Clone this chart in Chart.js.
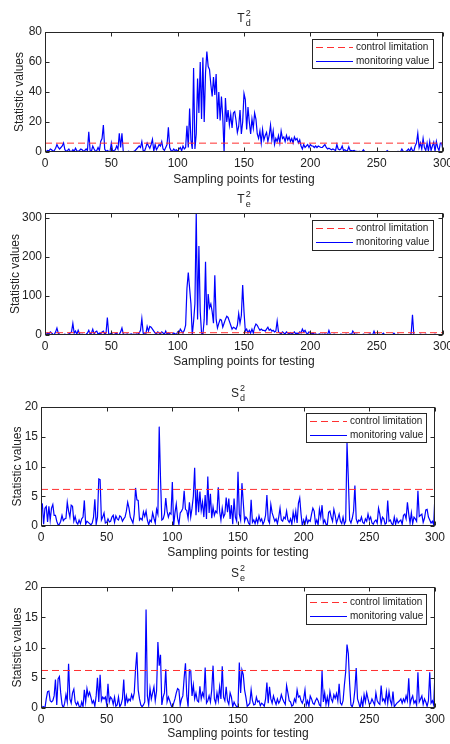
<!DOCTYPE html>
<html>
<head>
<meta charset="utf-8">
<script src="https://cdn.jsdelivr.net/npm/chart.js@4"></script>
<style>
  body { margin: 0; background: #fff; }
  #wrap { position: relative; width: 450px; height: 744px; }
  canvas { position: absolute; left: 0; }
</style>
</head>
<body>
<div id="wrap">
  <canvas id="c1" width="450" height="190" style="top:0px"></canvas>
  <canvas id="c2" width="450" height="186" style="top:190px"></canvas>
  <canvas id="c3" width="450" height="184" style="top:376px"></canvas>
  <canvas id="c4" width="450" height="184" style="top:560px"></canvas>
</div>
<script>
// values, samples 1..300
const tdValues = [
  0.5, 1, 0.8, 2, 1.5, 0.5, 1, 2.5, 5, 3,
  2, 3, 4, 6, 1.5, 0.5, 1, 2, 0.5, 0.3,
  1.5, 0.5, 2.5, 0.8, 0.3, 1, 2, 1.5, 0.5, 1,
  2, 1, 13.5, 1, 0.5, 4, 2, 0.5, 1, 3,
  1, 7, 9, 18, 2, 0.5, 1, 0.5, 0.3, 6,
  0.5, 1, 1.5, 4, 2, 12.5, 3, 12.5, 0.2, 0,
  0, 0.2, 0.5, 0, 0.3, 0, 0.5, 1, 2, 3,
  4, 3, 7, 1, 0.5, 3, 6, 4, 2.5, 5,
  8.5, 0.5, 5, 1.5, 3, 5, 4, 7, 2, 1,
  3, 5, 16.5, 3, 1, 0.5, 2, 1, 1.5, 0.5,
  2, 3, 0.8, 4, 2, 3, 17.5, 3, 29, 8,
  2, 56, 2, 12, 49, 26, 60, 22, 63, 20,
  53, 67, 57, 55, 45, 37, 50, 38, 52, 22,
  40, 21, 37, 23, 0, 36, 20, 28, 18, 25,
  16, 26, 27, 21, 13, 17, 28, 12, 20, 39,
  35, 15, 30, 20, 12, 22, 16, 26, 22, 12,
  9, 14, 6, 15, 8, 11, 13, 7, 11, 18,
  8, 14, 5, 9, 7, 11, 6, 14, 9, 10,
  7, 11, 8, 10, 7, 9, 6, 10, 8, 9,
  6, 8, 4, 2, 5, 3, 4, 5, 3, 5,
  4, 4, 3, 4, 3, 4, 3.5, 3, 3, 4,
  5, 3, 2, 2.5, 2, 1.5, 2, 1.5, 1, 5,
  2, 1.5, 2, 4, 1, 1.5, 0.8, 1, 3.5, 1,
  1, 0.8, 1, 0.5, 0.4, 0.3, 0.5, 0.3, 0.2, 1.5,
  0.2, 0.3, 0.2, 0.1, 0.2, 0.1, 0.2, 0.1, 0.1, 0.2,
  0.1, 0.2, 0.1, 0.1, 0.2, 0.1, 0.2, 1, 0.1, 0.2,
  0.1, 0.2, 0.1, 0.1, 0.2, 0.5, 0.3, 0.2, 2, 0.5,
  0.3, 0.5, 1, 2, 0.5, 3, 1, 0.5, 4, 6,
  12.5, 3, 6, 2, 9, 3, 1, 6, 0.5, 7,
  1, 4, 6.5, 0.5, 7, 3, 1, 6, 6, 0.5
];
const teValues = [
  2, 5, 3, 8, 5, 2, 1, 8, 18, 5,
  2, 1, 0.5, 1, 2, 0.5, 1, 3, 5, 8,
  30, 5, 10, 2, 12, 3, 1, 2, 1, 0.5,
  2, 5, 12, 2, 5, 15, 3, 8, 10, 2,
  5, 3, 8, 10, 2, 5, 45, 3, 2, 5,
  2, 1, 3, 5, 1, 2, 8, 18, 3, 1,
  2, 3, 1, 2, 3, 1, 2, 1, 3, 2,
  5, 12, 42, 5, 3, 2, 22, 10, 22, 20,
  15, 10, 5, 3, 8, 5, 3, 8, 5, 2,
  10, 2, 5, 3, 1, 2, 5, 3, 1, 8,
  5, 15, 10, 5, 12, 25, 120, 160, 120, 80,
  0, 35, 80, 313, 40, 228, 60, 5, 0, 40,
  188, 25, 105, 70, 80, 60, 30, 153, 40, 18,
  30, 40, 38, 20, 30, 40, 48, 45, 35, 25,
  15, 20, 18, 15, 25, 55, 30, 50, 128, 60,
  10, 15, 5, 12, 5, 15, 5, 20, 28, 25,
  18, 12, 15, 12, 12, 10, 15, 20, 12, 15,
  10, 12, 8, 10, 36, 8, 5, 3, 8, 5,
  3, 8, 5, 3, 6, 2, 5, 8, 3, 5,
  2, 8, 5, 15, 8, 12, 5, 3, 8, 5,
  3, 5, 2, 3, 1, 2, 3, 1, 2, 1,
  3, 2, 1, 12, 2, 0.5, 1, 2, 1, 0.5,
  1, 0.5, 2, 1, 0.5, 1, 2, 1, 1, 3,
  1, 10, 5, 1, 2, 1, 0.5, 1, 0.5, 2,
  1, 0.5, 1, 2, 3, 1, 1, 10, 1, 0.5,
  1, 2, 0.5, 1, 5, 1, 0.5, 1, 0.5, 1,
  0.5, 1, 5, 1, 0.5, 2, 1, 0.5, 1, 0.5,
  1, 0.5, 1, 0.5, 1, 3, 52, 1, 0.5, 1,
  1, 0.5, 2, 1, 0.5, 1, 2, 0.5, 1, 0.5,
  1, 0.5, 1, 2, 0.5, 1, 0.5, 1, 0.5, 1
];
const sdValues = [
  3.8, 0.3, 3, 3.3, 0.7, 3.3, 1, 3, 3.6, 1.8,
  1.8, 0.8, 0.2, 0.3, 0.8, 1.8, 0.9, 1.2, 1.3, 4,
  2.5, 1.5, 3.5, 3.3, 0.8, 1.6, 0.6, 0.3, 1, 0.4,
  1.2, 1.5, 4.3, 0.3, 0.8, 0.6, 0.4, 0.2, 0.5, 1.5,
  4.5, 0.3, 1.5, 7.9, 7.8, 1, 1.5, 2.2, 0.5, 0.6,
  1.2, 0.7, 0.8, 1.5, 1.8, 0.6, 1.7, 1.2, 1, 1.7,
  1.5, 0.8, 1.2, 1.5, 2.5, 4, 3, 1.5, 1, 0.5,
  2, 6.4, 4.4, 4.3, 1, 1.3, 1, 2.4, 1.6, 2.5,
  1, 0.2, 1, 0.7, 2.2, 1.3, 0.5, 2.8, 2, 16.7,
  8, 1, 1.2, 2, 4.7, 2.5, 1.5, 2.2, 2, 7.4,
  0, 2.2, 3.7, 1.3, 0.3, 2.2, 2.5, 3, 5.9, 2.8,
  2.6, 1.3, 4, 1.5, 3, 5, 9.8, 1.8, 6.2, 2.3,
  5.8, 2.6, 4, 1.5, 5.2, 1.2, 8.3, 2.2, 5.4, 1.3,
  3.2, 1.8, 2.5, 2.2, 6.5, 2.5, 1, 3, 1.5, 2,
  4.8, 2.3, 4.6, 1.2, 3.5, 0.3, 4.6, 1.5, 0.8, 9.1,
  2, 1, 7.2, 4, 0.8, 1.5, 1.2, 0.5, 0.2, 4.4,
  0.6, 1, 0.4, 1.3, 0.5, 1.7, 0.8, 1.2, 0.3, 0.8,
  1.8, 5.2, 1, 0.5, 3.6, 2.2, 1.5, 0.8, 1.2, 0.4,
  1.5, 3, 1, 0.8, 1.5, 1.2, 2.5, 1, 0.6, 1.2,
  0.3, 2.3, 1, 2.5, 0.5, 3.8, 4.7, 2, 0, 1,
  0.3, 1.5, 0.5, 1, 0.8, 2, 3, 2.5, 0.4, 1,
  0.2, 2.8, 1.5, 3.5, 0.5, 1, 0.3, 0.2, 2.3, 2.5,
  1.5, 0.8, 2.8, 1.8, 0.5, 1.2, 2, 0.8, 0.4, 1.5,
  0.3, 0.8, 14, 8, 1, 0.5, 1.3, 2.5, 6.8, 1.2,
  0.5, 1, 0.8, 1.5, 0.6, 0.4, 1.2, 0.8, 2, 1,
  1.5, 0.5, 0.3, 0.8, 1, 0.5, 3, 2, 0.4, 1.5,
  1.2, 0.3, 0.5, 4.3, 0.8, 1, 0.4, 0.2, 1.5, 0.3,
  1.2, 0.5, 0.8, 1, 0.3, 1.8, 2, 1.2, 4, 2,
  0.5, 2.2, 0.4, 1.5, 1.2, 0.8, 5.9, 1.6, 1.8, 2,
  0.6, 1.3, 2.7, 2.8, 1.5, 1, 0.5, 0.8, 0.2, 5.5
];
const seValues = [
  0.3, 0.2, 0, 1.5, 2.7, 2.8, 1.2, 1, 1.2, 2,
  4.7, 0.5, 4.8, 5.2, 2.5, 0.6, 0, 0.8, 2.2, 1,
  7.3, 1.5, 0.8, 2.5, 3.1, 1, 0.5, 1, 0.3, 0,
  1, 0.2, 3, 1, 3.2, 2, 2.6, 1.8, 0.8, 1.2,
  0.3, 2, 5, 1, 5.5, 1.2, 1.8, 1.5, 1.8, 0.6,
  4, 1, 1.8, 1.5, 0.6, 1.8, 0.3, 0.5, 1.8, 0.2,
  0.6, 1.5, 4.7, 0.3, 2, 1, 1.5, 1.2, 2.2, 1.5,
  2.5, 6.5, 9.2, 3, 1.5, 0.5, 0.2, 0.5, 1, 16.3,
  2, 0.5, 3.2, 1.5, 2.5, 3.5, 1.2, 2.8, 10.9, 7,
  8.8, 0.5, 1.8, 2.5, 6.4, 1, 1.8, 1.2, 0.5, 0,
  0.8, 1.5, 2.5, 3.2, 3, 0.5, 1.5, 2, 5, 7.4,
  2, 0.2, 6.3, 6.2, 2, 3.8, 1.5, 2.5, 1.2, 1,
  3.6, 1.5, 2.5, 1.8, 6.7, 0.8, 1.2, 2, 1, 3,
  7, 1.5, 0.8, 2.5, 1.2, 3.5, 1.5, 6.9, 1.8, 1.2,
  3.5, 1.2, 0.6, 2.5, 1.8, 0.2, 1, 0.5, 0.2, 0.3,
  7.5, 2.5, 6.3, 5.5, 3, 1.8, 0.3, 0.5, 0.8, 3,
  1.2, 0.5, 0.6, 1.8, 1, 1.2, 0.4, 0.8, 0.6, 0.3,
  1.5, 4.2, 0.8, 3.5, 1.5, 0.8, 2, 1.2, 0.6, 1.5,
  0.8, 1.2, 2.2, 1.5, 1, 0.6, 3.7, 2.5, 1.2, 1,
  0.3, 0.5, 1.5, 1, 3, 1.8, 2, 1.2, 0.8, 1.5,
  3, 0.5, 1.2, 0.3, 2, 1.5, 0.8, 0.6, 1.2, 1.6,
  1.2, 0.5, 0.3, 6.1, 1, 2.5, 0.6, 1.8, 0.5, 2.7,
  1.5, 1, 2.2, 1.6, 2.4, 1.2, 4, 0.8, 0.5, 1.2,
  3.8, 6, 10.5, 9, 4, 0.5, 0.2, 1, 3, 6.6,
  1.5, 0.8, 0, 1.5, 0.2, 2.2, 1, 2.5, 1.5, 0.6,
  0.8, 1.5, 1, 0.5, 2.5, 1.2, 0.8, 0.6, 3.7, 1.2,
  1.5, 0.8, 2.7, 0.8, 2.7, 1.2, 0.5, 2.7, 0.2, 0.5,
  0.8, 1, 1.2, 1.5, 0.8, 1.5, 1, 2, 1.2, 4.9,
  0.6, 1.5, 2, 0.8, 1.2, 0.5, 5.9, 1, 1.5, 2,
  0.6, 1.5, 1, 0.3, 1.2, 5.9, 0.8, 1.2, 0.5, 6
];
const tdLimit = 5.9;
const teLimit = 5.9;
const sdLimit = 6.15;
const seLimit = 6.2;
const xLabel = 'Sampling points for testing';
const yLabel = 'Statistic values';
const legendLabels = ['control limitation', 'monitoring value'];

const FONT = '"Liberation Sans", Arial, Helvetica, sans-serif';
const INK = '#222';
const LIMIT_COLOR = '#ff3030';
const LINE_COLOR = '#0000ff';
Chart.defaults.font.family = FONT;
Chart.defaults.font.size = 12;
Chart.defaults.color = INK;

// box round the axes with inward ticks, like matlab
Chart.register({
  id: 'matBox',
  afterDraw(chart) {
    const {ctx, chartArea: a, scales} = chart;
    const l = Math.round(a.left) + 0.5, r = Math.round(a.right) - 0.5;
    const t = Math.round(a.top) + 0.5, b = Math.round(a.bottom) - 0.5;
    ctx.save();
    ctx.strokeStyle = '#262626';
    ctx.lineWidth = 1;
    ctx.strokeRect(l, t, r - l, b - t);
    ctx.beginPath();
    scales.x.ticks.forEach(tk => {
      const px = Math.round(scales.x.getPixelForValue(tk.value)) + 0.5;
      ctx.moveTo(px, b); ctx.lineTo(px, b - 4);
      ctx.moveTo(px, t); ctx.lineTo(px, t + 4);
    });
    scales.y.ticks.forEach(tk => {
      const py = Math.round(scales.y.getPixelForValue(tk.value)) + 0.5;
      ctx.moveTo(l, py); ctx.lineTo(l + 4, py);
      ctx.moveTo(r, py); ctx.lineTo(r - 4, py);
    });
    ctx.stroke();
    ctx.restore();
  }
});

// title with super- and subscript
Chart.register({
  id: 'subTitle',
  afterDraw(chart, args, opts) {
    if (!opts.main) return;
    const {ctx, chartArea: a} = chart;
    ctx.save();
    ctx.fillStyle = INK;
    ctx.textBaseline = 'alphabetic';
    ctx.font = '12px ' + FONT;
    const wm = ctx.measureText(opts.main).width;
    ctx.font = '9px ' + FONT;
    const ws = Math.max(ctx.measureText(opts.sup).width, ctx.measureText(opts.sub).width);
    const x0 = (a.left + a.right) / 2 - (wm + ws + 1) / 2;
    const base = a.top - 10;
    ctx.font = '12px ' + FONT;
    ctx.fillText(opts.main, x0, base);
    ctx.font = '9px ' + FONT;
    ctx.fillText(opts.sup, x0 + wm + 1, base - 6.5);
    ctx.fillText(opts.sub, x0 + wm + 1, base + 3.5);
    ctx.restore();
  }
});

// boxed legend inside the axes
Chart.register({
  id: 'boxLegend',
  afterDraw(chart, args, opts) {
    if (opts.left == null) return;
    const {ctx} = chart;
    const styles = [
      { color: LIMIT_COLOR, dash: [7, 4] },
      { color: LINE_COLOR, dash: [] }
    ];
    ctx.save();
    ctx.fillStyle = '#fff';
    ctx.fillRect(opts.left, opts.top, opts.width, opts.height);
    ctx.strokeStyle = '#262626';
    ctx.lineWidth = 1;
    ctx.strokeRect(opts.left + 0.5, opts.top + 0.5, opts.width, opts.height);
    ctx.font = '10px ' + FONT;
    ctx.textBaseline = 'middle';
    legendLabels.forEach((label, i) => {
      const y = Math.round(opts.top + 8 + i * 13.5) + 0.5;
      ctx.beginPath();
      ctx.strokeStyle = styles[i].color;
      ctx.lineWidth = 1;
      ctx.setLineDash(styles[i].dash);
      ctx.moveTo(opts.left + 4, y);
      ctx.lineTo(opts.left + 41, y);
      ctx.stroke();
      ctx.setLineDash([]);
      ctx.fillStyle = INK;
      ctx.fillText(label, opts.left + 44, y);
    });
    ctx.restore();
  }
});

function makeChart(id, values, limit, yMax, yStep, cfg) {
  const points = values.map((v, i) => ({ x: i + 1, y: v }));
  new Chart(document.getElementById(id), {
    type: 'line',
    data: {
      datasets: [
        {
          label: legendLabels[0],
          data: [{ x: 0, y: limit }, { x: 300, y: limit }],
          borderColor: LIMIT_COLOR,
          borderWidth: 1,
          borderDash: [7, 4],
          pointRadius: 0
        },
        {
          label: legendLabels[1],
          data: points,
          borderColor: LINE_COLOR,
          borderWidth: 1.2,
          pointRadius: 0,
          tension: 0
        }
      ]
    },
    options: {
      responsive: false,
      animation: false,
      layout: { padding: cfg.pad },
      plugins: {
        legend: { display: false },
        tooltip: { enabled: false },
        subTitle: cfg.title,
        boxLegend: cfg.legend
      },
      scales: {
        x: {
          type: 'linear', min: 0, max: 300,
          grid: { display: false, drawTicks: false },
          border: { display: false },
          ticks: { stepSize: 50, padding: 4, maxRotation: 0 },
          title: { display: true, text: xLabel, padding: { top: 0, bottom: 0 } },
          afterFit(s) {
            s.height = cfg.xH;
            s.paddingLeft = 0;
            s.paddingRight = 0;
          }
        },
        y: {
          min: 0, max: yMax,
          grid: { display: false, drawTicks: false },
          border: { display: false },
          ticks: { stepSize: yStep, padding: 3, includeBounds: false },
          title: { display: true, text: yLabel, padding: { top: 6, bottom: 0 } },
          afterFit(s) {
            s.width = cfg.yW;
            s.paddingTop = 0;
            s.paddingBottom = 0;
          }
        }
      }
    }
  });
}

makeChart('c1', tdValues, tdLimit, 80, 20, {
  pad: { left: 6, right: 7, top: 32, bottom: 3 }, xH: 35, yW: 39,
  title: { main: 'T', sup: '2', sub: 'd' },
  legend: { left: 312, top: 39, width: 121, height: 29 }
});
makeChart('c2', teValues, teLimit, 313, 100, {
  pad: { left: 2, right: 7, top: 23, bottom: 7 }, xH: 34, yW: 43,
  title: { main: 'T', sup: '2', sub: 'e' },
  legend: { left: 312, top: 30, width: 121, height: 30 }
});
makeChart('c3', sdValues, sdLimit, 20, 5, {
  pad: { left: 4, right: 15, top: 31, bottom: 0 }, xH: 34, yW: 37,
  title: { main: 'S', sup: '2', sub: 'd' },
  legend: { left: 306, top: 37, width: 120, height: 29 }
});
makeChart('c4', seValues, seLimit, 20, 5, {
  pad: { left: 4, right: 15, top: 27, bottom: 3 }, xH: 33, yW: 37,
  title: { main: 'S', sup: '2', sub: 'e' },
  legend: { left: 306, top: 34, width: 120, height: 30 }
});
</script>
</body>
</html>
